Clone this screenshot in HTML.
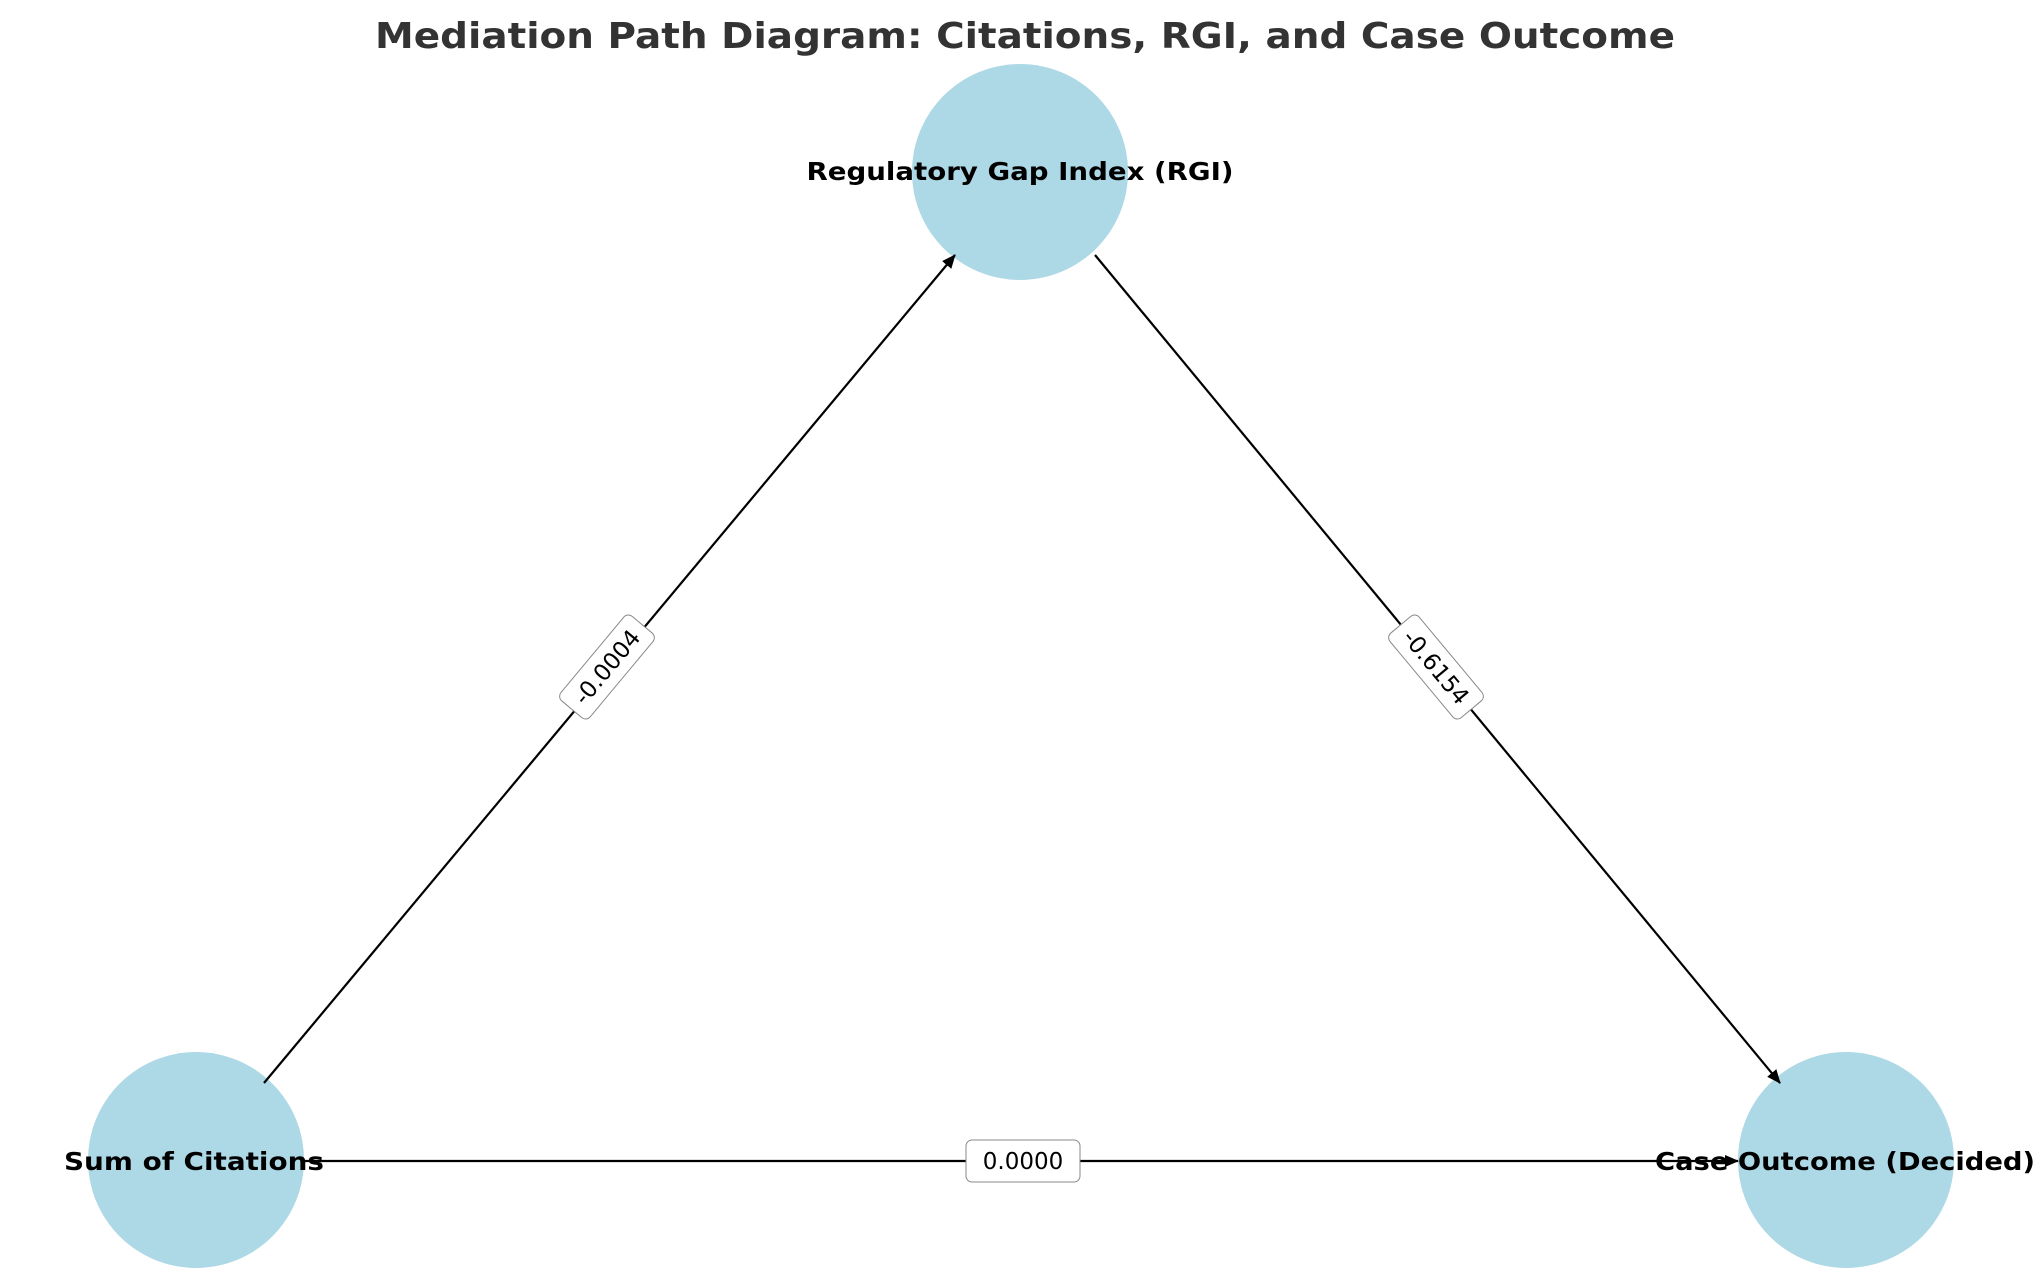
<!DOCTYPE html>
<html><head><meta charset="utf-8"><style>html,body{margin:0;padding:0;background:#fff}svg{display:block}</style></head>
<body>
<svg width="2039" height="1286" viewBox="0 0 2039 1286" xmlns="http://www.w3.org/2000/svg" font-family="DejaVu Sans, Liberation Sans, sans-serif">
<defs>
<marker id="a" markerWidth="14" markerHeight="12" refX="13" refY="6" orient="auto" markerUnits="userSpaceOnUse">
<path d="M0,0 L14,6 L0,12 Z" fill="#000"/></marker>
</defs>
<text x="1025" y="48" text-anchor="middle" font-size="36" font-weight="bold" fill="#333" textLength="1300" lengthAdjust="spacingAndGlyphs">Mediation Path Diagram: Citations, RGI, and Case Outcome</text>
<circle cx="1020" cy="172" r="108" fill="#add8e6"/>
<circle cx="196" cy="1160" r="108" fill="#add8e6"/>
<circle cx="1846" cy="1160" r="108" fill="#add8e6"/>
<line x1="264" y1="1083" x2="955" y2="255" stroke="#000" stroke-width="2.2" marker-end="url(#a)"/>
<line x1="1095" y1="255" x2="1780" y2="1083" stroke="#000" stroke-width="2.2" marker-end="url(#a)"/>
<line x1="303" y1="1161" x2="1738" y2="1161" stroke="#000" stroke-width="2.2" marker-end="url(#a)"/>
<g transform="translate(607,667) rotate(-50.2)">
<rect x="-55" y="-19" width="110" height="38" rx="6" fill="#fff" stroke="#888" stroke-width="1"/>
<text x="0" y="8" text-anchor="middle" font-size="23">-0.0004</text></g>
<g transform="translate(1436,667) rotate(50.2)">
<rect x="-55" y="-19" width="110" height="38" rx="6" fill="#fff" stroke="#888" stroke-width="1"/>
<text x="0" y="8" text-anchor="middle" font-size="23">-0.6154</text></g>
<g transform="translate(1023,1161)">
<rect x="-57" y="-21" width="114" height="42" rx="6" fill="#fff" stroke="#888" stroke-width="1"/>
<text x="0" y="8" text-anchor="middle" font-size="23">0.0000</text></g>
<text x="1020" y="180" text-anchor="middle" font-size="25" font-weight="bold" textLength="427" lengthAdjust="spacingAndGlyphs">Regulatory Gap Index (RGI)</text>
<text x="194" y="1170" text-anchor="middle" font-size="25" font-weight="bold" textLength="260" lengthAdjust="spacingAndGlyphs">Sum of Citations</text>
<text x="1655" y="1170" font-size="25" font-weight="bold" textLength="380" lengthAdjust="spacingAndGlyphs">Case Outcome (Decided)</text>
</svg>
</body></html>
